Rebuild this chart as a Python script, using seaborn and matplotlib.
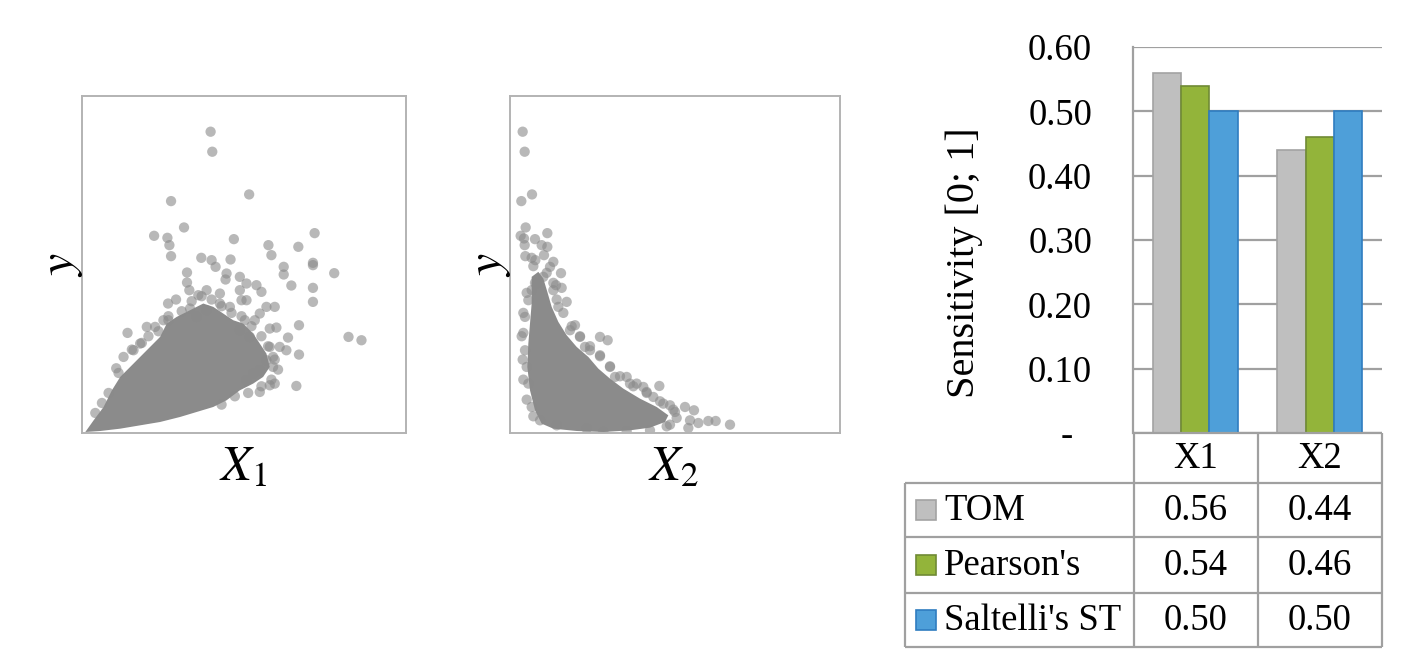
import numpy as np
import pandas as pd
import matplotlib
matplotlib.use("Agg")
import matplotlib.pyplot as plt
import seaborn as sns

# ---------------- data ----------------
# Scatter panel 1 (X1 vs y), arbitrary units
p1_x = [387, 392, 503, 268, 307, 217, 257, 263, 268, 457, 700, 561, 570, 651, 695, 695,
        759, 695, 695, 630, 607, 607, 802, 841, 653, 653, 645, 359, 390, 402, 447, 316,
        316, 323, 435, 432, 475, 495, 525, 540, 475, 495, 480, 137, 103, 620, 595, 580,
        535, 565, 575, 580, 555, 585, 565, 535, 520, 259, 283, 260, 195, 220, 375, 350,
        415, 415, 445, 375, 325, 345, 565, 555, 535, 515, 495, 575, 615, 125, 155, 175,
        245, 475, 505, 490,
        150, 180, 200, 230, 260, 300, 330, 360, 390, 420, 450, 480, 510, 540, 560, 580,
        590, 570, 540, 500, 460, 420, 60, 80, 110, 40]
p1_y = [903, 843, 715, 695, 616, 591, 585, 563, 530, 581, 599, 563, 533, 558, 510, 503,
        479, 435, 393, 442, 498, 475, 288, 278, 323, 235, 141, 525, 518, 498, 520, 481,
        451, 428, 478, 460, 468, 448, 443, 423, 428, 398, 398, 300, 194, 286, 258, 148,
        123, 143, 228, 378, 378, 316, 313, 358, 338, 388, 400, 338, 318, 318, 428, 413,
        418, 388, 378, 368, 373, 348, 258, 218, 188, 178, 158, 198, 248, 228, 248, 268,
        338, 308, 288, 338,
        250, 270, 290, 305, 350, 365, 395, 410, 400, 380, 360, 350, 320, 290, 260, 220,
        190, 160, 140, 120, 110, 85, 90, 120, 180, 60]
# dense core outline of panel 1
core1_x = [10, 35, 65, 90, 115, 145, 175, 205, 235, 255, 285, 325, 365, 395, 425, 455,
           485, 515, 535, 555, 565, 545, 515, 475, 435, 395, 345, 295, 235, 175, 115, 55]
core1_y = [3, 38, 78, 128, 168, 198, 228, 258, 288, 328, 348, 368, 388, 378, 358, 338,
           328, 298, 268, 238, 198, 168, 148, 128, 98, 78, 63, 48, 33, 23, 13, 6]

# Scatter panel 2 (X2 vs y)
p2_x = [38, 44, 66, 34, 47, 32, 42, 44, 112, 112, 95, 75, 46, 65, 102, 76, 130, 120,
        153, 155, 170, 138, 145, 195, 210, 225, 270, 293, 270, 315, 360, 380, 410, 448,
        480, 495, 525, 552, 540, 565, 595, 617, 660, 535, 480, 40, 45, 55, 50, 45, 55,
        65, 90, 140, 230, 280, 80, 65, 100, 130, 180, 240, 300, 350, 400, 430, 460,
        70, 75, 50, 40, 35, 38, 40, 50, 70, 110, 130, 140, 160, 185, 210, 240, 270, 300,
        330, 370, 410, 450, 490, 500, 470, 420, 350]
p2_y = [903, 843, 715, 695, 616, 591, 583, 563, 599, 558, 563, 581, 530, 525, 533, 518,
        513, 498, 479, 435, 393, 443, 378, 323, 288, 258, 288, 278, 233, 168, 148, 148,
        123, 141, 83, 63, 78, 68, 38, 30, 36, 36, 25, 15, 25, 300, 348, 398, 198, 248,
        148, 78, 38, 23, 13, 3, 448, 428, 468, 428, 308, 248, 198, 168, 138, 108, 88,
        500, 450, 420, 360, 290, 220, 160, 100, 50, 480, 450, 400, 360, 320, 290, 260,
        230, 200, 170, 140, 120, 95, 70, 45, 20, 8, 5]
core2_x = [65, 65, 60, 55, 52, 60, 75, 95, 130, 200, 280, 360, 420, 465, 475, 440, 390,
           340, 300, 265, 235, 200, 170, 145, 125, 112, 100, 85]
core2_y = [468, 388, 328, 268, 198, 128, 68, 28, 13, 6, 3, 8, 16, 33, 53, 78, 103, 133,
           163, 193, 228, 258, 293, 333, 378, 423, 463, 483]

# Bar chart / data table
categories = ["X1", "X2"]
methods = ["TOM", "Pearson's", "Saltelli's ST"]
tom = [0.56, 0.44]
pearson = [0.54, 0.46]
saltelli = [0.50, 0.50]
y_ticks = [0.0, 0.1, 0.2, 0.3, 0.4, 0.5, 0.6]
y_tick_labels = ["-  ", "0.10", "0.20", "0.30", "0.40", "0.50", "0.60"]

bar_colors = ["#bfbfbf", "#93b43a", "#4e9fd9"]
edge_colors = ["#a3a3a3", "#6f8a35", "#2f7dc0"]

# ---------------- style ----------------
sns.set_style("white")
plt.rcParams["font.family"] = ["Liberation Serif", "DejaVu Serif"]
plt.rcParams["mathtext.fontset"] = "stix"
plt.rcParams["text.color"] = "black"
plt.rcParams["axes.labelcolor"] = "black"
plt.rcParams["ytick.color"] = "black"
plt.rcParams["xtick.color"] = "black"

W, H = 1427, 649
fig = plt.figure(figsize=(W / 100, H / 100), dpi=100)


def frac_box(x0, y0, x1, y1):
    return [x0 / W, 1 - y1 / H, (x1 - x0) / W, (y1 - y0) / H]


pt_color = "#8a8a8a"
spine_gray = "#b3b3b3"
FS = 26.5

# scatter panels
for box, px, py, cx, cy, xl, lab, lab_x in [
    (frac_box(82, 96, 406, 433), p1_x, p1_y, core1_x, core1_y, 975, r"$X_1$", 243),
    (frac_box(510, 96, 840, 433), p2_x, p2_y, core2_x, core2_y, 990, r"$X_2$", 673),
]:
    ax = fig.add_axes(box)
    ax.fill(cx, cy, color="#8b8b8b", lw=0, zorder=1)
    sns.scatterplot(x=px, y=py, ax=ax, color=pt_color, alpha=0.6, s=55,
                    edgecolor="none", linewidth=0, zorder=2)
    ax.set_xlim(0, xl)
    ax.set_ylim(0, 1010)
    ax.set_xticks([])
    ax.set_yticks([])
    for s in ax.spines.values():
        s.set_visible(True)
        s.set_color(spine_gray)
        s.set_linewidth(1.4)
    fig.text(lab_x / W, 1 - 468 / H, lab, fontsize=36, ha="center", va="center")

fig.text(62 / W, 1 - 265 / H, r"$y$", fontsize=36, rotation=90, ha="center", va="center")
fig.text(490 / W, 1 - 265 / H, r"$y$", fontsize=36, rotation=90, ha="center", va="center")

# bar chart
df = pd.DataFrame({
    "cat": categories * 3,
    "method": [methods[0]] * 2 + [methods[1]] * 2 + [methods[2]] * 2,
    "val": tom + pearson + saltelli,
})
bax = fig.add_axes(frac_box(1133, 47, 1382, 433))
sns.barplot(data=df, x="cat", y="val", hue="method", palette=bar_colors,
            width=0.68, gap=0, ax=bax, legend=False, saturation=1)
for cont, ec in zip(bax.containers, edge_colors):
    for p in cont:
        p.set_edgecolor(ec)
        p.set_linewidth(1.2)
grid_gray = "#a0a0a0"
bax.set_axisbelow(True)
bax.yaxis.grid(True, color=grid_gray, lw=1.6)
bax.set_xlim(-0.5, 1.5)
bax.set_ylim(0, 0.6)
bax.set_yticks(y_ticks)
bax.set_yticklabels(y_tick_labels, fontsize=FS)
bax.tick_params(axis="y", length=0, pad=29.5)
bax.set_xticks([])
bax.set_xlabel("")
bax.set_ylabel("Sensitivity [0; 1]", fontsize=29, va="center")
bax.yaxis.set_label_coords((964 - 1133) / 249, (433 - 263) / 386)
for k in ["top", "right", "bottom"]:
    bax.spines[k].set_visible(False)
bax.spines["left"].set_color(grid_gray)
bax.spines["left"].set_linewidth(1.6)

# data table
tax = fig.add_axes(frac_box(905, 433, 1382, 647))
tax.set_xlim(905, 1382)
tax.set_ylim(647, 433)
tax.axis("off")
lc = dict(color=grid_gray, lw=1.6, clip_on=False)
tax.hlines(433, 1134, 1382, **lc)
for yy in [483, 537, 593, 647]:
    tax.hlines(yy, 905, 1382, **lc)
tax.vlines(905, 483, 647, **lc)
for xx in [1134, 1258, 1382]:
    tax.vlines(xx, 433, 647, **lc)
col_cx = [1196, 1320]
for c, cx in zip(categories, col_cx):
    tax.text(cx, 459, c, fontsize=FS, ha="center", va="center")
row_cy = [511, 566, 621]
series = [tom, pearson, saltelli]
for m, cy, vals, fc, ec in zip(methods, row_cy, series, bar_colors, edge_colors):
    tax.add_patch(plt.Rectangle((916, cy - 11), 20, 20, facecolor=fc, edgecolor=ec,
                                lw=1.2, clip_on=False))
    tax.text(944, cy, m, fontsize=FS, ha="left", va="center")
    for v, cx in zip(vals, col_cx):
        tax.text(cx, cy, f"{v:.2f}", fontsize=FS, ha="center", va="center")

fig.savefig("out.png", dpi=100)
